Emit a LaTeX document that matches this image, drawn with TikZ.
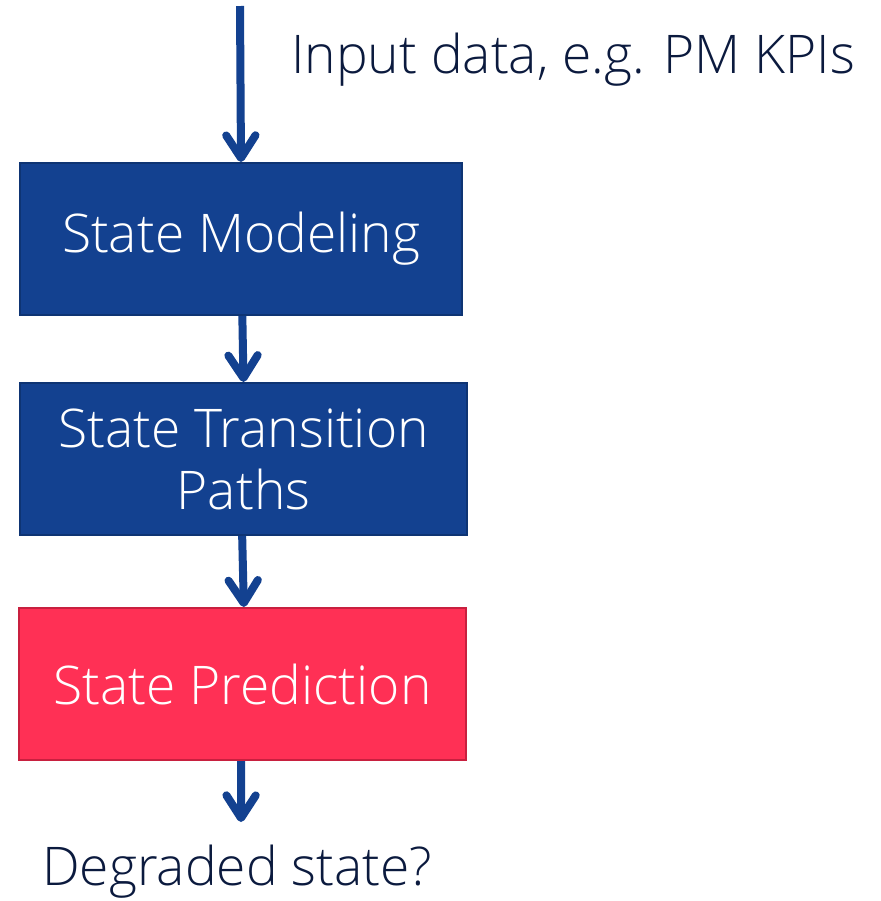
\documentclass[tikz,border=0pt]{standalone}
\usepackage{fontspec}
\setmainfont{Open Sans}[UprightFont=* Light]
\usetikzlibrary{arrows.meta}
\definecolor{flowblue}{RGB}{19,65,144}
\definecolor{flowblueedge}{RGB}{14,52,115}
\definecolor{flowred}{RGB}{255,48,85}
\definecolor{flowrededge}{RGB}{200,32,63}
\definecolor{labelnavy}{RGB}{11,26,62}
\begin{document}
\begin{tikzpicture}[x=0.75pt,y=-0.75pt,
  stagebox/.style={draw=flowblueedge,fill=flowblue,line width=1.5pt,
    text=white,align=center,inner sep=0pt,
    minimum width=335pt,minimum height=114pt,
    font=\fontsize{40}{46.5}\selectfont},
  alertbox/.style={stagebox,draw=flowrededge,fill=flowred},
  flowarrow/.style={draw=flowblue,line width=6pt,
    -{Straight Barb[length=17pt,width=22pt,round]}},
  caption/.style={text=labelnavy,inner sep=0pt,
    font=\fontsize{40}{46.5}\selectfont}]
\useasboundingbox (0,0) rectangle (881,901);

% processing stages
\node[stagebox,minimum width=331.5pt] (model) at (241,239) {State Modeling};
\node[stagebox] (trans) at (243.5,459) {State Transition\\Paths};
\node[alertbox] (pred) at (242.5,684) {State Prediction};

% input and output labels
\node[caption,anchor=base west] (input) at (291,73) {Input data, e.g. PM KPIs};
\node[caption,anchor=base west] (output) at (42,885) {Degraded state?};

% arrow ends outside the stages
\coordinate (src) at (240,6);
\coordinate (sink) at (241,822);

% connectors
\draw[flowarrow] (src) -- (model.north);
\draw[flowarrow] ([xshift=1pt]model.south) -- (trans.north);
\draw[flowarrow] ([xshift=-1pt]trans.south) -- ([xshift=1pt]pred.north);
\draw[flowarrow] ([xshift=-1pt]pred.south) -- (sink);
\end{tikzpicture}
\end{document}
